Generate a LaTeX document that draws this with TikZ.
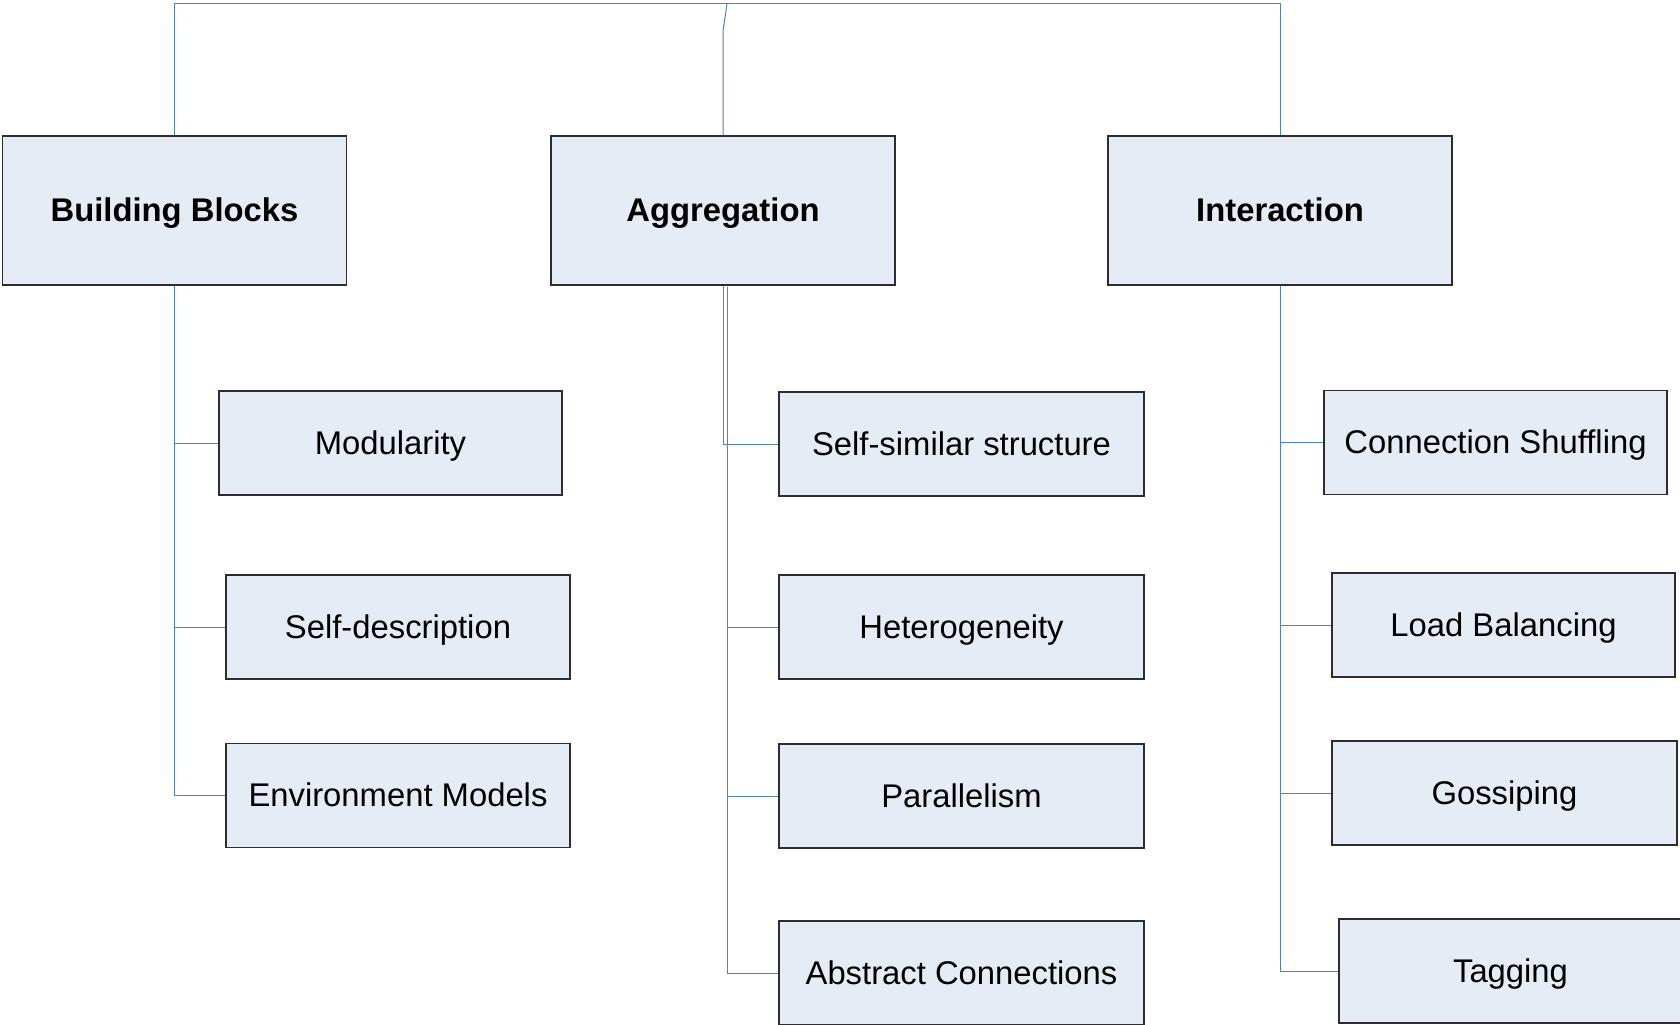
\documentclass[tikz,border=0pt]{standalone}
\usepackage{fontspec}
\setmainfont{Liberation Sans}
\usepackage{xcolor}
\usepackage{tikz}
\definecolor{boxfill}{RGB}{230,236,246}
\definecolor{boxline}{RGB}{45,45,45}
\definecolor{linkblue}{RGB}{79,129,189}

\begin{document}
\begin{tikzpicture}[x=0.5pt, y=-0.5pt,
  box/.style={draw=boxline, line width=0.6pt, fill=boxfill, inner sep=0pt,
    minimum height=52pt, text height=12pt, text depth=1pt,
    font=\fontsize{16.4}{20}\selectfont},
  head/.style={box, minimum height=74.5pt, minimum width=172pt,
    font=\fontsize{16.4}{20}\selectfont\bfseries},
  link/.style={draw=linkblue, line width=0.5pt}]
 \useasboundingbox (0,0) rectangle (1680,1024);
 \clip (0,0) rectangle (1680,1024);
 \node[head] (bb) at (174.5,210.5) {Building Blocks};
 \node[head] (agg) at (723,210.5) {Aggregation};
 \node[head] (int) at (1280,210.5) {Interaction};
 \foreach \name/\x/\y/\w/\text in {mod/390.5/443/171.5/Modularity,
   sdesc/398/627/172/Self-description, env/398/795.5/172/Environment Models,
   selfsim/961.5/444/182.5/Self-similar structure, het/961.5/627/182.5/Heterogeneity,
   par/961.5/796/182.5/Parallelism, abs/961.5/973/182.5/Abstract Connections,
   shuf/1495.5/442.5/171.5/Connection Shuffling, load/1503.5/625/171.5/Load Balancing,
   goss/1504.5/793/172.5/Gossiping, tag/1510.5/971/171.5/Tagging}
   \node[box, minimum width=\w pt] (\name) at (\x,\y) {\text};
 % tree lines
 \coordinate (aggtop) at (727,3.5);
 \coordinate (aggtrunk) at (727,287);
 \draw[link] (bb.north) |- (aggtop) -| (int.north);
 \draw[link] (agg.north) -- ++(0,-104) -- (aggtop);
 \foreach \c in {mod,sdesc,env}
   \draw[link] (bb.south) |- (\c.west);
 \draw[link] (agg.south) |- (selfsim.west);
 \foreach \c in {het,par,abs}
   \draw[link] (aggtrunk) |- (\c.west);
 \foreach \c in {shuf,load,goss,tag}
   \draw[link] (int.south) |- (\c.west);
\end{tikzpicture}
\end{document}
